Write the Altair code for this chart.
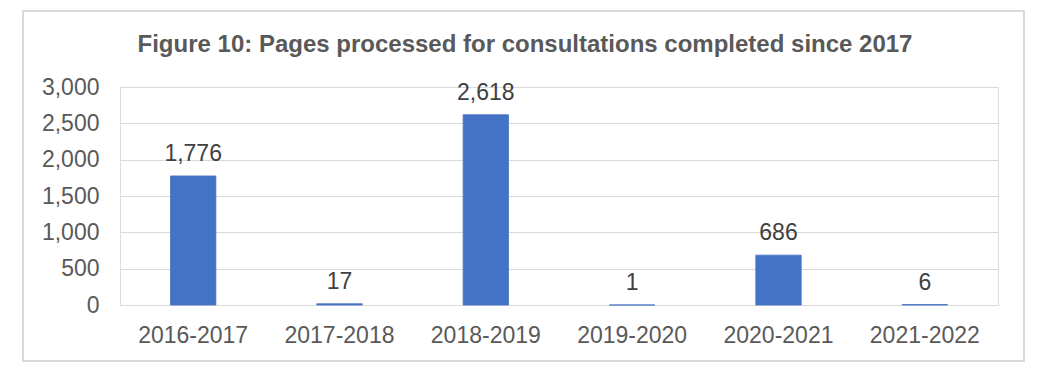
import altair as alt
import pandas as pd

years = ["2016-2017", "2017-2018", "2018-2019", "2019-2020", "2020-2021", "2021-2022"]
pages = [1776, 17, 2618, 1, 686, 6]
labels = ["1,776", "17", "2,618", "1", "686", "6"]
title_text = "Figure 10: Pages processed for consultations completed since 2017"

df = pd.DataFrame({"year": years, "pages": pages, "label": labels})

FONT = "Liberation Sans"

x = alt.X("year:N", sort=years, title=None,
          scale=alt.Scale(paddingInner=0.69, paddingOuter=0.345),
          axis=alt.Axis(labelAngle=0, labelFontSize=23, labelColor="#595959",
                        labelFont=FONT, ticks=False, domain=False, labelPadding=19,
                        grid=False, labelOverlap=False))
y = alt.Y("pages:Q", title=None,
          scale=alt.Scale(domain=[0, 3000], nice=False),
          axis=alt.Axis(values=[0, 500, 1000, 1500, 2000, 2500, 3000], format=",.0f",
                        labelFontSize=23, labelColor="#595959", labelFont=FONT,
                        ticks=False, domain=False, labelPadding=21, labelOverlap=False,
                        gridColor="#D9D9D9", gridWidth=1))

base = alt.Chart(df)

bars = base.mark_bar(color="#4472C4", stroke="#4472C4", strokeWidth=0.8).encode(x=x, y=y)

text = base.mark_text(baseline="alphabetic", dy=-15, fontSize=23, color="#404040",
                      font=FONT).encode(x=x, y=y, text="label:N")

border = alt.Chart(pd.DataFrame({"a": [0]})).mark_rect(
    fill=None, stroke="#D9D9D9", strokeWidth=2).encode(
    x=alt.value(-97), x2=alt.value(904), y=alt.value(-76), y2=alt.value(274))

title = alt.Chart(pd.DataFrame({"t": [title_text]})).mark_text(
    fontSize=24, fontWeight="bold", color="#595959", font=FONT,
    align="center", baseline="alphabetic").encode(
    x=alt.value(405), y=alt.value(-35), text="t:N")

chart = alt.layer(border, bars, text, title).properties(
    width=878, height=218,
    padding={"left": 112, "top": 79, "right": 40, "bottom": 66},
    autosize=alt.AutoSizeParams(type="none"),
).configure_view(stroke=None).configure(background="white")

chart.save("out.html", embed_options={"renderer": "svg", "actions": False})
